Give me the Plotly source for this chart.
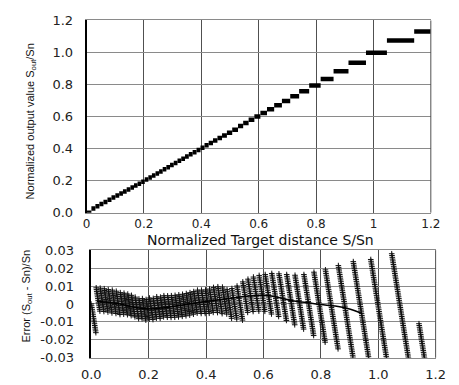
import numpy as np
import plotly.graph_objects as go

W, H = 459, 385

# Quantization steps (start of each step and its output level)
step_start = [0.0, 0.017, 0.031, 0.045, 0.059, 0.073, 0.087, 0.1005, 0.114, 0.127,
              0.140, 0.153, 0.1655, 0.178, 0.1905, 0.203, 0.2155, 0.228, 0.2405, 0.253,
              0.2655, 0.2783, 0.2911, 0.3041, 0.3171, 0.3301, 0.3433, 0.3565, 0.3699, 0.3835,
              0.3973, 0.4113, 0.4258, 0.4408, 0.4563, 0.4723, 0.4893, 0.5078, 0.528, 0.546,
              0.565, 0.585, 0.606, 0.629, 0.654, 0.681, 0.710, 0.741, 0.776, 0.816,
              0.861, 0.913, 0.974, 1.047, 1.142]
step_level = [0.0, 0.026, 0.0398, 0.0535, 0.067, 0.0807, 0.0941, 0.1073, 0.120, 0.1325,
              0.1448, 0.1568, 0.1688, 0.181, 0.1935, 0.2063, 0.2191, 0.232, 0.2448, 0.2576,
              0.2705, 0.2836, 0.2968, 0.3101, 0.3234, 0.3368, 0.3503, 0.3639, 0.3777, 0.3917,
              0.4058, 0.4203, 0.4352, 0.4506, 0.4664, 0.481, 0.4986, 0.518, 0.5403, 0.5598,
              0.580, 0.6009, 0.6224, 0.646, 0.6708, 0.6974, 0.726, 0.7574, 0.7937, 0.835,
              0.8824, 0.9366, 0.9988, 1.075, 1.131]
range_end = 1.2
step_end = step_start[1:] + [range_end]

# Measurement grid of target distances (S/Sn)
sample_step = 0.001

# Mean error curve
mean_x = [0.02, 0.1, 0.15, 0.2, 0.25, 0.3, 0.35, 0.4, 0.45, 0.5, 0.55, 0.6, 0.65,
          0.7, 0.75, 0.8, 0.85, 0.9, 0.944]
mean_err = [0.0015, 0.0, -0.0018, -0.0028, -0.0022, -0.001, 0.0002, 0.0014, 0.0024,
            0.0035, 0.0044, 0.0048, 0.0038, 0.0018, 0.0008, -0.0003, -0.0012, -0.0028, -0.0054]

top_xticks = [0, 0.2, 0.4, 0.6, 0.8, 1.0, 1.2]
top_xlabels = ["0", "0.2", "0.4", "0.6", "0.8", "1", "1.2"]
top_yticks = [0, 0.2, 0.4, 0.6, 0.8, 1.0, 1.2]
top_ylabels = ["0.0", "0.2", "0.4", "0.6", "0.8", "1.0", "1.2"]
bot_xticks = [0, 0.2, 0.4, 0.6, 0.8, 1.0, 1.2]
bot_xlabels = ["0.0", "0.2", "0.4", "0.6", "0.8", "1.0", "1.2"]
bot_yticks = [0.03, 0.02, 0.01, 0, -0.01, -0.02, -0.03]
bot_ylabels = ["0.03", "0.02", "0.01", "0", "-0.01", "-0.02", "-0.03"]

# staircase segments
seg_x, seg_y = [], []
for s, e, lv in zip(step_start, step_end, step_level):
    seg_x += [s, e, None]
    seg_y += [lv, lv, None]

# error of each measured point: S_out - S
xs = np.arange(0.0, range_end, sample_step)
starts = np.array(step_start)
levels = np.array(step_level)
idx = np.searchsorted(starts, xs, side="right") - 1
err = levels[idx] - xs

fig = go.Figure()
fig.add_trace(go.Scatter(x=seg_x, y=seg_y, mode="lines",
                         line=dict(color="black", width=4.5), xaxis="x", yaxis="y",
                         showlegend=False, hoverinfo="skip"))
fig.add_trace(go.Scatter(x=xs, y=err, mode="markers",
                         marker=dict(symbol="cross-thin", size=4, color="#111",
                                     line=dict(color="#111", width=1)),
                         xaxis="x2", yaxis="y2", showlegend=False))
fig.add_trace(go.Scatter(x=mean_x, y=mean_err, mode="lines", line=dict(color="black", width=1.5),
                         line_shape="spline", xaxis="x2", yaxis="y2", showlegend=False))

tickfont = dict(family="DejaVu Sans", size=13, color="#222")
tickfont_top_x = dict(family="DejaVu Sans", size=12, color="#222")
vgrid = "#505050"
hgrid = "#8a8a8a"

fig.update_layout(
    width=W, height=H, margin=dict(l=0, r=0, t=0, b=0),
    paper_bgcolor="white", plot_bgcolor="white",
    xaxis=dict(domain=[80 / W, 440 / W], range=[0, 1.2], tickvals=top_xticks, ticktext=top_xlabels,
               showgrid=True, gridcolor=vgrid, gridwidth=1, zeroline=False,
               showline=True, linecolor=hgrid, mirror=True, tickfont=tickfont_top_x,
               ticklabelstandoff=0, anchor="y"),
    yaxis=dict(domain=[1 - 214 / H, 1 - 14 / H], range=[0, 1.2], tickvals=top_yticks, ticktext=top_ylabels,
               showgrid=True, gridcolor=hgrid, gridwidth=1, zeroline=False,
               showline=True, linecolor="black", linewidth=1.5, tickfont=tickfont,
               ticklabelstandoff=9, anchor="x"),
    xaxis2=dict(domain=[85 / W, 445 / W], range=[-0.0, 1.2], tickvals=bot_xticks, ticktext=bot_xlabels,
                showgrid=True, gridcolor=vgrid, gridwidth=1, zeroline=False,
                showline=True, linecolor=hgrid, mirror=True, tickfont=tickfont,
                ticklabelstandoff=5, anchor="y2"),
    yaxis2=dict(domain=[1 - 365 / H, 1 - 253 / H], range=[-0.03, 0.03], tickvals=bot_yticks, ticktext=bot_ylabels,
                showgrid=True, gridcolor=hgrid, gridwidth=1, zeroline=False,
                showline=True, linecolor="black", linewidth=1.5, tickfont=tickfont,
                ticklabelstandoff=13, anchor="x2"),
    shapes=[
        dict(type="line", xref="x domain", yref="y domain", x0=1, x1=1, y0=0, y1=1,
             line=dict(color=vgrid, width=1)),
        dict(type="line", xref="x2 domain", yref="y2 domain", x0=1, x1=1, y0=0, y1=1,
             line=dict(color=vgrid, width=1)),
    ],
    annotations=[
        dict(text="Normalized output value S<sub>out</sub>/Sn", xref="paper", yref="paper",
             x=22 / W, y=1 - 119 / H, textangle=-90, showarrow=False,
             font=dict(family="Liberation Sans", size=11, color="#111"),
             xanchor="center", yanchor="middle"),
        dict(text="Normalized Target distance S/Sn", xref="paper", yref="paper",
             x=262 / W, y=1 - 242 / H, showarrow=False,
             font=dict(family="DejaVu Sans", size=14, color="#111"),
             xanchor="center", yanchor="middle"),
        dict(text="Error (S<sub>out</sub> - Sn)/Sn", xref="paper", yref="paper",
             x=18 / W, y=1 - 301 / H, textangle=-90, showarrow=False,
             font=dict(family="Liberation Sans", size=11, color="#111"),
             xanchor="center", yanchor="middle"),
    ],
)

fig.write_html("out.html")
